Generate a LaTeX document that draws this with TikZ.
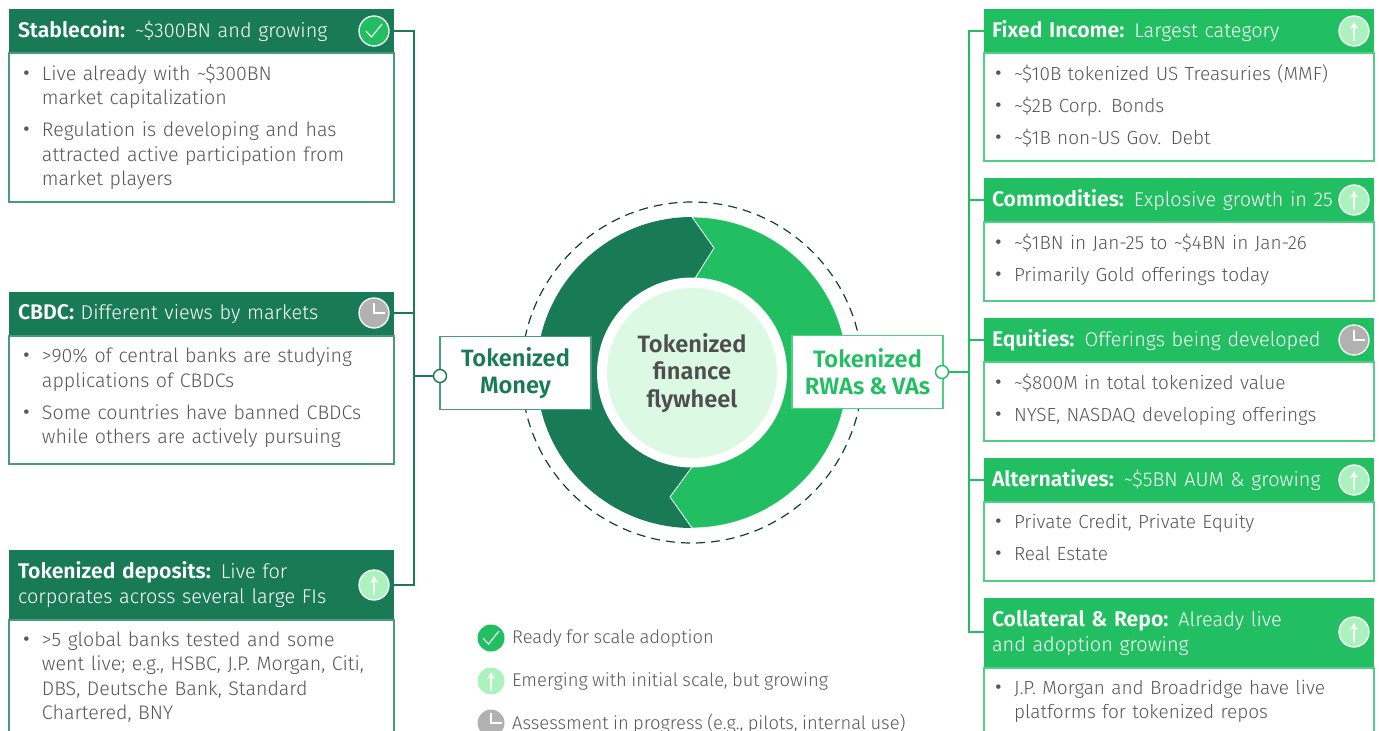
\documentclass[tikz,border=0pt]{standalone}
\usepackage{fontspec}
\setmainfont{Fira Sans}[UprightFont=* Light,BoldFont=* SemiBold,WordSpace=0.85,BoldFeatures={Scale=1.065}]
\usetikzlibrary{positioning,arrows.meta}
\definecolor{moneygreen}{HTML}{197A56}
\definecolor{moneyline}{HTML}{4A9A7C}
\definecolor{assetgreen}{HTML}{21BF61}
\definecolor{assetline}{HTML}{4FCF84}
\definecolor{palegreen}{HTML}{DCF9E3}
\definecolor{upgreen}{HTML}{ABF2BE}
\definecolor{waitgrey}{HTML}{B1B1B1}
\definecolor{bodygrey}{HTML}{575757}
\newlength{\bulletgap}
\setlength{\bulletgap}{20pt}
\newcommand{\bitem}[1]{\par\noindent\leftskip=\bulletgap\llap{\makebox[\bulletgap][l]{\raisebox{-3pt}{\fontsize{30}{30}\selectfont\textbullet}}}#1\par}
\newcommand{\bodyup}{15}
\tikzset{
    headtext/.style={font=\fontsize{19.9}{25}\selectfont,text=white,align=left,anchor=north west,minimum height=44pt,inner ysep=0pt,outer sep=0pt},
    moneyhead/.style={headtext,fill=moneygreen,text width=367pt,inner xsep=9pt},
    assethead/.style={headtext,fill=assetgreen,text width=374pt,inner xsep=8pt},
    bodyraise/.code={\renewcommand{\bodyup}{#1}},
    bodytext/.style={text=bodygrey,fill=white,line width=1.6pt,align=left,inner ysep=0pt,outer sep=0pt,
        execute at begin node={\setlength{\parskip}{7.5pt}\vskip-\bodyup pt}},
    moneybody/.style={bodytext,font=\fontsize{19.6}{24.5}\selectfont,draw=moneyline,text width=359pt,inner xsep=13pt},
    assetbody/.style={bodytext,font=\fontsize{19}{24.5}\selectfont,draw=assetline,text width=370pt,inner xsep=10pt},
    moneylink/.style={draw=moneygreen,line width=1.4pt},
    assetlink/.style={draw=assetgreen,line width=1.4pt},
    hub/.style={circle,fill=white,line width=1.4pt,minimum size=13pt,inner sep=0pt},
    okmark/.style={circle,fill=assetgreen,inner sep=0pt,minimum size=30pt,
        path picture={\draw[white,line width=1.1pt] ([shift={(-8pt,0pt)}]path picture bounding box.center) -- ([shift={(-2.5pt,-6pt)}]path picture bounding box.center) -- ([shift={(8pt,7pt)}]path picture bounding box.center);}},
    upmark/.style={circle,fill=upgreen,inner sep=0pt,minimum size=30pt,
        path picture={\draw[white,line width=1.3pt,-{Stealth[length=7pt,width=8pt]}] ([yshift=-10pt]path picture bounding box.center) -- ([yshift=9pt]path picture bounding box.center);}},
    waitmark/.style={circle,fill=waitgrey,inner sep=0pt,minimum size=30pt,
        path picture={\draw[white,line width=1.3pt] ([yshift=10pt]path picture bounding box.center) -- (path picture bounding box.center) -- ([xshift=11pt]path picture bounding box.center);}},
    ringed/.style={draw=white,line width=1.3pt},
    legendmark/.style={minimum size=27pt},
    legendtext/.style={font=\fontsize{18.4}{24}\selectfont,text=bodygrey,anchor=west,inner sep=0pt},
    tokenbox/.style={fill=white,line width=1.6pt,minimum width=151pt,minimum height=73pt,inner sep=0pt,outer sep=0pt,align=center,font=\fontsize{22.2}{27}\selectfont\bfseries},
}
\begin{document}
\begin{tikzpicture}[x=1pt,y=-1pt]
    \useasboundingbox (0,0) rectangle (1379,731);
    \clip (0,0) rectangle (1379,731);
    % flywheel
    \draw[line width=1.2pt,dash pattern=on 9pt off 6pt,draw=moneygreen!55!black] (692,372.5) circle[radius=170.5];
    \fill[moneygreen] (692,372.5) circle[radius=155.5];
    \filldraw[fill=assetgreen,draw=white,line width=.8pt] (692,217) arc[start angle=270,end angle=450,radius=155.5] -- (670,497) -- (692,467) -- (692,283) -- (714,248) -- cycle;
    \fill[white] (692,372.5) circle[radius=95];
    \node[circle,fill=palegreen,minimum size=170pt,inner sep=0pt,align=center,text=bodygrey!90!black,font=\fontsize{22.2}{27.5}\selectfont\bfseries] (wheel) at (692,373) {Tokenized\\finance\\flywheel};
    \node[tokenbox,draw=moneyline,text=moneygreen] (money) at (515.5,373) {Tokenized\\Money};
    \node[tokenbox,draw=assetline,text=assetgreen] (rwas) at (867.5,372) {Tokenized\\RWAs \& VAs};
    % left cards
    \node[moneyhead] (stablehead) at (9,9) {\textbf{Stablecoin:} \textasciitilde\$300BN and growing};
    \node[moneybody,bodyraise=17,minimum height=149pt,below=0pt of stablehead] (stablebody) {\bitem{Live already with \textasciitilde\$300BN\\market capitalization}\bitem{Regulation is developing and has\\attracted active participation from\\market players}};
    \node[moneyhead] (cbdchead) at (9,292) {\textbf{CBDC:} Different views by markets};
    \node[moneybody,bodyraise=21,minimum height=128pt,below=0pt of cbdchead] (cbdcbody) {\bitem{>90\% of central banks are studying\\applications of CBDCs}\bitem{Some countries have banned CBDCs\\while others are actively pursuing}};
    \node[moneyhead,minimum height=70pt] (dephead) at (9,550) {\textbf{Tokenized deposits:} Live for\\corporates across several large FIs};
    \node[moneybody,bodyraise=17,minimum height=114pt,below=0pt of dephead] (depbody) {\bitem{>5 global banks tested and some\\went live; e.g., HSBC, J.P. Morgan, Citi,\\DBS, Deutsche Bank, Standard\\Chartered, BNY}};
    % right cards
    \node[assethead] (fixedhead) at (984,9) {\textbf{Fixed Income:} Largest category};
    \node[assetbody,bodyraise=19,minimum height=108pt,below=0pt of fixedhead] (fixedbody) {\bitem{\textasciitilde\$10B tokenized US Treasuries (MMF)}\bitem{\textasciitilde\$2B Corp. Bonds}\bitem{\textasciitilde\$1B non-US Gov. Debt}};
    \node[assethead] (commodhead) at (984,178) {\textbf{Commodities:} Explosive growth in 25};
    \node[assetbody,bodyraise=21,minimum height=79pt,below=0pt of commodhead] (commodbody) {\bitem{\textasciitilde\$1BN in Jan-25 to \textasciitilde\$4BN in Jan-26}\bitem{Primarily Gold offerings today}};
    \node[assethead] (equityhead) at (984,318) {\textbf{Equities:} Offerings being developed};
    \node[assetbody,bodyraise=21,minimum height=79pt,below=0pt of equityhead] (equitybody) {\bitem{\textasciitilde\$800M in total tokenized value}\bitem{NYSE, NASDAQ developing offerings}};
    \node[assethead] (althead) at (984,458) {\textbf{Alternatives:} \textasciitilde\$5BN AUM \& growing};
    \node[assetbody,bodyraise=23,minimum height=79pt,below=0pt of althead] (altbody) {\bitem{Private Credit, Private Equity}\bitem{Real Estate}};
    \node[assethead,minimum height=70pt] (repohead) at (984,598) {\textbf{Collateral \& Repo:} Already live\\and adoption growing};
    \node[assetbody,minimum height=64pt,below=0pt of repohead] (repobody) {\bitem{J.P. Morgan and Broadridge have live\\platforms for tokenized repos}};
    % status icons
    \node[okmark,ringed] (stableicon) at (374,31) {};
    \node[waitmark,ringed] (cbdcicon) at (374,313) {};
    \node[upmark,ringed] (depicon) at (374,585) {};
    \node[upmark,ringed] (fixedicon) at (1354,31) {};
    \node[upmark,ringed] (commodicon) at (1354,200) {};
    \node[waitmark,ringed] (equityicon) at (1354,340) {};
    \node[upmark,ringed] (alticon) at (1354,480) {};
    \node[upmark,ringed] (repoicon) at (1354,632) {};
    % connectors
    \node[hub,draw=moneygreen] (hubmoney) at (440,376) {};
    \node[hub,draw=assetgreen] (hubrwas) at (942,372) {};
    \coordinate (jointmoney) at (414,376);
    \coordinate (jointrwas) at (969,372);
    \draw[moneylink] (stablehead.east |- stableicon) -| (jointmoney);
    \draw[moneylink] (cbdchead.east |- cbdcicon) -| (jointmoney);
    \draw[moneylink] (dephead.east |- depicon) -| (jointmoney);
    \draw[moneylink] (jointmoney) -- (hubmoney);
    \draw[assetlink] (fixedhead.west |- fixedicon) -| (jointrwas);
    \draw[assetlink] (commodhead.west |- commodicon) -| (jointrwas);
    \draw[assetlink] (equityhead.west |- equityicon) -| (jointrwas);
    \draw[assetlink] (althead.west |- alticon) -| (jointrwas);
    \draw[assetlink] (repohead.west |- repoicon) -| (jointrwas);
    \draw[assetlink] (jointrwas) -- (hubrwas);
    % legend
    \node[okmark,legendmark] (readyicon) at (491,638) {};
    \node[upmark,legendmark] (emergeicon) at (491,681) {};
    \node[waitmark,legendmark] (assessicon) at (491,723) {};
    \node[legendtext] (readytext) at (512,638) {Ready for scale adoption};
    \node[legendtext] (emergetext) at (512,681) {Emerging with initial scale, but growing};
    \node[legendtext] (assesstext) at (512,724) {Assessment in progress (e.g., pilots, internal use)};
\end{tikzpicture}
\end{document}
